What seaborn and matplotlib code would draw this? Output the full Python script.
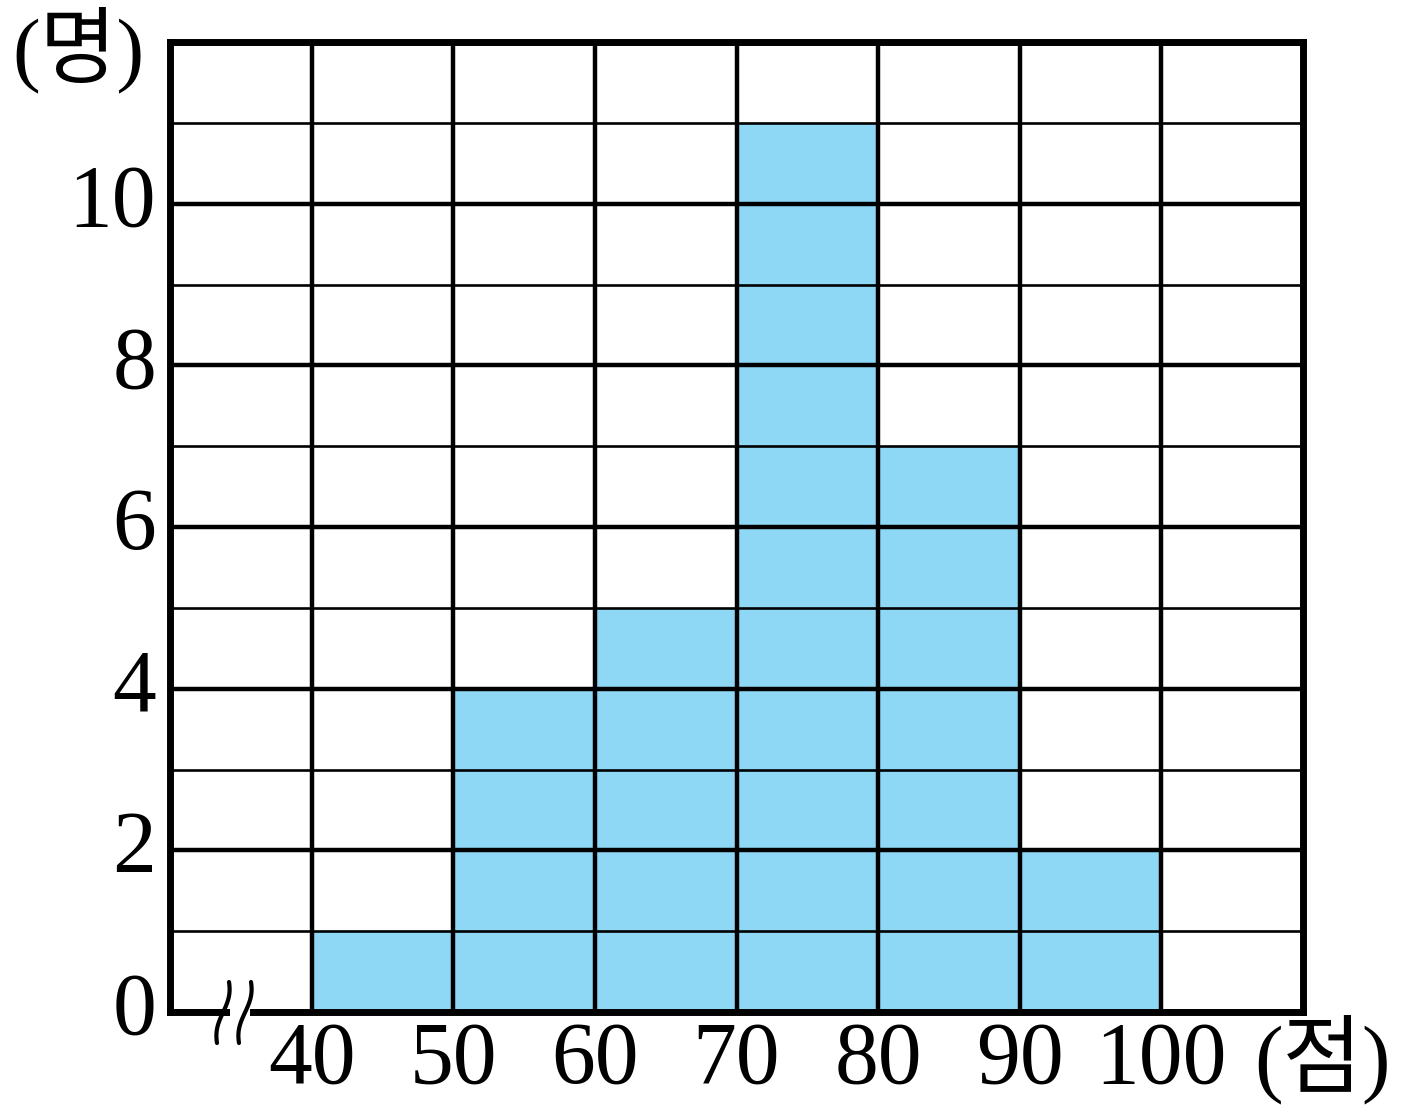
import numpy as np
import pandas as pd
import matplotlib
matplotlib.use("Agg")
import matplotlib.pyplot as plt
from matplotlib.transforms import Affine2D, ScaledTranslation
from matplotlib.patches import Rectangle
import seaborn as sns

# ---- data ----
bin_mids = [45, 55, 65, 75, 85, 95]
counts = [1, 4, 5, 11, 7, 2]
bin_edges = [30, 40, 50, 60, 70, 80, 90, 100, 110]
x_tick_values = [40, 50, 60, 70, 80, 90, 100]
x_tick_labels = ["40", "50", "60", "70", "80", "90", "100"]
y_tick_values = [0, 2, 4, 6, 8, 10]
y_tick_labels = ["0", "2", "4", "6", "8", "10"]
y_minor_values = [1, 3, 5, 7, 9, 11]
y_unit = "(명)"
x_unit = "(점)"

sns.set_style("white")
plt.rcParams['font.family'] = ['Liberation Serif', 'Noto Sans CJK KR']
plt.rcParams['text.color'] = 'black'
plt.rcParams['xtick.color'] = 'black'
plt.rcParams['ytick.color'] = 'black'

W, H = 1404, 1115
fig = plt.figure(figsize=(W / 100, H / 100), dpi=100)
ax = fig.add_axes([170 / W, 1 - 1012 / H, (1303 - 170) / W, (1012 - 42) / H])

df = pd.DataFrame({"score": bin_mids, "count": counts})
sns.histplot(data=df, x="score", weights="count", bins=bin_edges, ax=ax,
             color="#8ED8F6", alpha=1, linewidth=0, edgecolor="none")

ax.set_xlim(30, 110)
ax.set_ylim(0, 12)
ax.set_xlabel("")
ax.set_ylabel("")
ax.set_xticks(x_tick_values)
ax.set_xticklabels(x_tick_labels)
ax.set_yticks(y_tick_values)
ax.set_yticklabels(y_tick_labels)
ax.set_yticks(y_minor_values, minor=True)
ax.set_axisbelow(False)
ax.grid(True, which="major", axis="x", color="black", linewidth=3.2)
ax.grid(True, which="major", axis="y", color="black", linewidth=3.2)
ax.grid(True, which="minor", axis="y", color="black", linewidth=1.9)
ax.tick_params(which="both", length=0, labelcolor="black")
ax.tick_params(axis="x", labelsize=63, pad=6)
ax.tick_params(axis="y", labelsize=63, pad=10)
up = ScaledTranslation(0, 9 / 100, fig.dpi_scale_trans)
for lab in ax.get_yticklabels():
    lab.set_transform(lab.get_transform() + up)
for s in ax.spines.values():
    s.set_visible(True)
    s.set_color("black")
    s.set_linewidth(5.0)

# pixel-coordinate transform for annotations
pix = Affine2D().scale(1 / W, -1 / H).translate(0, 1) + fig.transFigure

fig.text(78, 50, y_unit, transform=pix, fontsize=60, ha="center", va="center",
         color="black")
fig.text(1323, 1060, x_unit, transform=pix, fontsize=62, ha="center", va="center",
         color="black")

# axis break symbol
fig.patches.append(Rectangle((230, 1005), 20, 14, transform=pix, facecolor="white",
                             edgecolor="none", zorder=10))
t = np.linspace(0, 1, 60)
yy = 982 + 61 * t
for off in (0, 22):
    xx = 223 + off + 6 * np.cos(np.pi * t) + 1.5 * np.sin(2 * np.pi * t)
    fig.lines.append(plt.Line2D(xx, yy, transform=pix, color="black", linewidth=3.0,
                                zorder=11))

fig.savefig("out.png", dpi=100)
